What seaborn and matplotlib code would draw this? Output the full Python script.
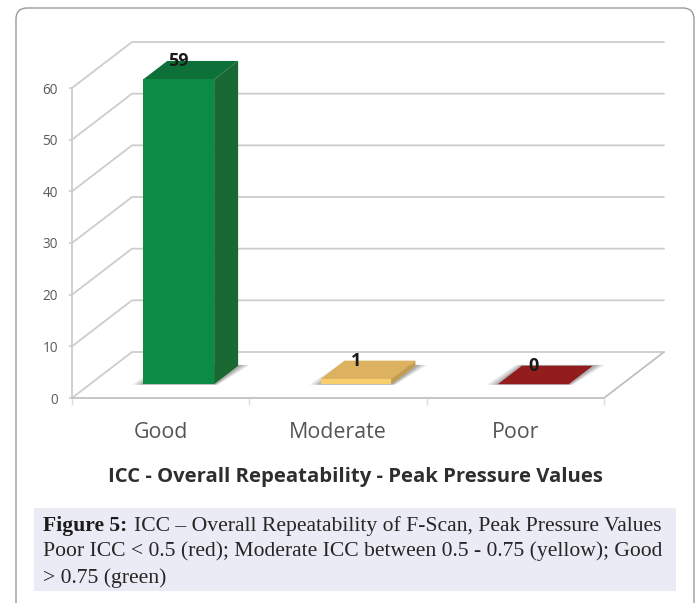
import matplotlib
matplotlib.use("Agg")
import matplotlib.pyplot as plt
import seaborn as sns
import pandas as pd
from matplotlib.patches import FancyBboxPatch, Rectangle, Polygon
from matplotlib.transforms import Affine2D

# ---- data ----
categories = ["Good", "Moderate", "Poor"]
values = [59, 1, 0]
value_labels = ["59", "1", "0"]
y_ticks = [0, 10, 20, 30, 40, 50, 60]
title = "ICC - Overall Repeatability - Peak Pressure Values"
caption_head = "Figure 5:"
caption_lines = ["ICC \u2013 Overall Repeatability of F-Scan, Peak Pressure Values",
                 "Poor ICC < 0.5 (red); Moderate ICC between 0.5 - 0.75 (yellow); Good",
                 "> 0.75 (green)"]
front_colors = ["#0b8c44", "#f8cf6c", "#931c1c"]
top_colors = ["#0c7038", "#dcb15f", "#931c1c"]
side_colors = ["#1a6832", "#c49c4e", "#7a1616"]

W, H = 699, 603
sns.set_theme(style="white")
plt.rcParams["font.family"] = ["Open Sans", "DejaVu Sans"]
fig = plt.figure(figsize=(W / 100, H / 100), dpi=100, facecolor="white")

# outer card and caption panel (figure pixel coordinates, y down)
bg = fig.add_axes([0, 0, 1, 1], zorder=0)
bg.set_xlim(0, W); bg.set_ylim(H, 0); bg.axis("off")
bg.add_patch(FancyBboxPatch((16, 8), 678, 660, boxstyle="round,pad=0,rounding_size=11",
                            fc="white", ec="#9a9a9a", lw=1.0))
bg.add_patch(Rectangle((34, 508), 642, 83, fc="#ebebf5", ec="none"))

# plot plane = front face of the 3-D chart
L, R, T, B = 72, 604, 88, 398
ax = fig.add_axes([L / W, (H - B) / H, (R - L) / W, (B - T) / H], zorder=1)
ax.patch.set_alpha(0)
for s in ax.spines.values():
    s.set_visible(False)

xpx = 3 / (R - L)       # data units per pixel, x
ypx = 60 / (B - T)      # data units per pixel, y
DX, DY = 60 * xpx, 46 * ypx   # full wall depth in data units
D0, D1 = 0.30, 0.70     # bar depth range as fraction of wall depth
BW = 0.4


def proj(x, y, d):
    return (x + d * DX, y + d * DY)


GRID = "#cdcdcd"
lw = 1.3
# walls
for v in y_ticks:
    xa, ya = proj(-0.5, v, 0); xb, yb = proj(-0.5, v, 1); xc, yc = proj(2.5, v, 1)
    ax.plot([xa, xb, xc], [ya, yb, yc], color=GRID, lw=lw, clip_on=False, zorder=1)
ax.plot([-0.5, -0.5], [0, 60], color=GRID, lw=lw, clip_on=False, zorder=1)
fx, fy = proj(2.5, 0, 1)
ax.plot([-0.5, 2.5, fx], [0, 0, fy], color="#c0c0c0", lw=lw, clip_on=False, zorder=1)

# soft floor shadows
for i in range(len(categories)):
    for grow, a in [(11, 0.16), (8, 0.2), (5, 0.24), (3, 0.26)]:
        g = grow * xpx
        xl, xr = i - BW / 2 - g, i + BW / 2 + g * 0.6
        pts = [proj(xl, -0.1, D0), proj(xr - 0.25 * g, -0.1, D0),
               proj(xr + g * 0.3, -0.1, D1 + 0.03), proj(xl + 0.3 * g, -0.1, D1 + 0.03)]
        ax.add_patch(Polygon(pts, fc="#808080", ec="none", alpha=a, zorder=1.5, clip_on=False))

# front faces through seaborn, shifted into the depth of the floor
df = pd.DataFrame({"cat": categories, "val": values})
shift = Affine2D().translate(D0 * DX, D0 * DY) + ax.transData
sns.barplot(data=df, x="cat", y="val", hue="cat", palette=front_colors, legend=False,
            width=BW, saturation=1, linewidth=0, ax=ax, zorder=4,
            transform=shift, clip_on=False)

# side and top faces, derived from the values
for i, v in enumerate(values):
    xl, xr = i - BW / 2, i + BW / 2
    ax.add_patch(Polygon([proj(xr, 0, D0), proj(xr, v, D0), proj(xr, v, D1), proj(xr, 0, D1)],
                         fc=side_colors[i], ec="none", zorder=3, clip_on=False))
    ax.add_patch(Polygon([proj(xl, v, D0), proj(xr, v, D0), proj(xr, v, D1), proj(xl, v, D1)],
                         fc=top_colors[i], ec="none", zorder=3, clip_on=False))
    x0, y0 = proj(i, v, D0)
    ax.annotate(value_labels[i], (x0, y0), xytext=(0, 18 * 0.72), textcoords="offset points",
                ha="center", va="center", fontsize=13, fontweight="bold",
                color="#1a1a1a", zorder=6, annotation_clip=False)

ax.set_xlim(-0.5, 2.5)
ax.set_ylim(0, 60)
ax.set_xlabel(""); ax.set_ylabel("")
ax.set_yticks(y_ticks)
ax.set_yticklabels([str(v) for v in y_ticks], fontsize=9.8, color="#5a5a5a")
ax.set_xticks(range(len(categories)))
ax.set_xticklabels(categories, fontsize=15.4, color="#555555")
ax.set_xticks([-0.5, 0.5, 1.5, 2.5], minor=True)
ax.tick_params(axis="x", which="major", length=0, pad=17, bottom=True)
ax.tick_params(axis="x", which="minor", length=5, width=1, color="#dddddd", bottom=True)
ax.tick_params(axis="y", length=2.5, width=1.2, color=GRID, pad=7.5, left=True)

# chart title and caption
bg.text(355.5, 477, title, ha="center", va="center", fontsize=14.6, fontweight="bold", color="#2e2e2e")
serif = ["Liberation Serif", "DejaVu Serif"]
FS = 15.6
bg.text(43, 526.5, caption_head, ha="left", va="center", fontsize=FS, fontweight="bold",
        family=serif, color="#1c1c1c")
bg.text(134, 526.5, caption_lines[0], ha="left", va="center", fontsize=FS, family=serif, color="#262626")
bg.text(43, 551.5, caption_lines[1], ha="left", va="center", fontsize=FS, family=serif, color="#262626")
bg.text(43, 578, caption_lines[2], ha="left", va="center", fontsize=FS, family=serif, color="#262626")

fig.savefig("out.png", dpi=100)
